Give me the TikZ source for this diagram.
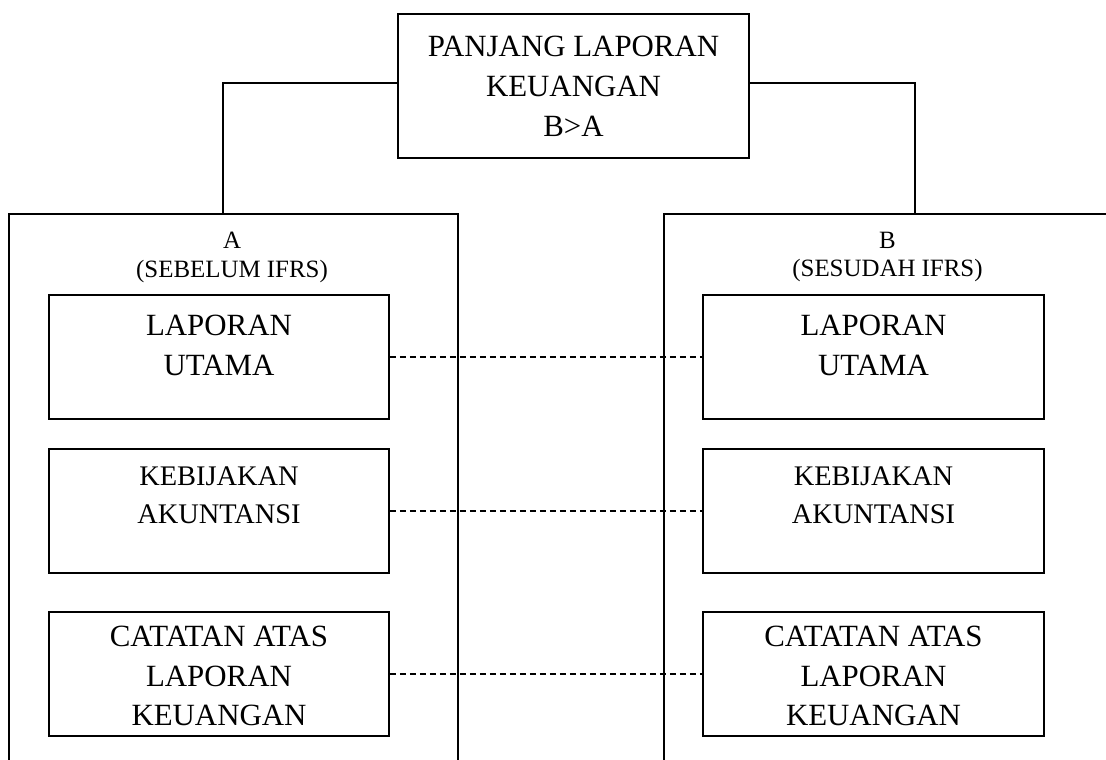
\documentclass[tikz,border=0pt]{standalone}
\usepackage{fontspec}
\setmainfont{Liberation Serif}
\begin{document}
\begin{tikzpicture}[x=1bp,y=-1bp,line width=1.6bp,
  box/.style={draw,inner sep=0pt},
  big/.style={align=center,inner sep=0pt,font=\fontsize{31}{40}\selectfont},
  mid/.style={align=center,inner sep=0pt,font=\fontsize{28.5}{38}\selectfont},
  hdr/.style={align=center,inner sep=0pt,font=\fontsize{25}{29}\selectfont},
  link/.style={dash pattern=on 6bp off 4bp,line width=1.5bp}]
\useasboundingbox (0,0) rectangle (1106,760);
\clip (0,0) rectangle (1106,760);
% top box
\node[box,big,minimum width=351bp,minimum height=144bp] (top) at (573.5,86) {PANJANG LAPORAN\\KEUANGAN\\B>A};
% outer boxes
\node[box,minimum width=449bp,minimum height=600bp,anchor=north west] (outA) at (8,213) {};
\node[box,minimum width=449bp,minimum height=600bp,anchor=north west] (outB) at (663,213) {};
\node[hdr] (hA) at (232,257) {A\\(SEBELUM IFRS)};
\node[hdr] (hB) at (887.5,257) {B\\(SESUDAH IFRS)};
% connectors
\coordinate (ca) at (223,213);
\coordinate (cb) at (915,213);
\draw ([yshift=3bp]top.west) -| (ca);
\draw ([yshift=3bp]top.east) -| (cb);
% inner boxes left
\node[box,minimum width=340bp,minimum height=124bp] (a1) at (219,357) {};
\node[box,minimum width=340bp,minimum height=124bp] (a2) at (219,511) {};
\node[box,minimum width=340bp,minimum height=124bp] (a3) at (219,674) {};
% inner boxes right
\node[box,minimum width=341bp,minimum height=124bp] (b1) at (873.5,357) {};
\node[box,minimum width=341bp,minimum height=124bp] (b2) at (873.5,511) {};
\node[box,minimum width=341bp,minimum height=124bp] (b3) at (873.5,674) {};
% texts
\node[big] (a1t) at (219,345) {LAPORAN\\UTAMA};
\node[mid] (a2t) at (219,495) {KEBIJAKAN\\AKUNTANSI};
\node[big] (a3t) at (219,676) {CATATAN ATAS\\LAPORAN\\KEUANGAN};
\node[big] (b1t) at (873.5,345) {LAPORAN\\UTAMA};
\node[mid] (b2t) at (873.5,495) {KEBIJAKAN\\AKUNTANSI};
\node[big] (b3t) at (873.5,676) {CATATAN ATAS\\LAPORAN\\KEUANGAN};
% dashed links
\draw[link] (a1.east) -- (b1.west);
\draw[link] (a2.east) -- (b2.west);
\draw[link] (a3.east) -- (b3.west);
\end{tikzpicture}
\end{document}
